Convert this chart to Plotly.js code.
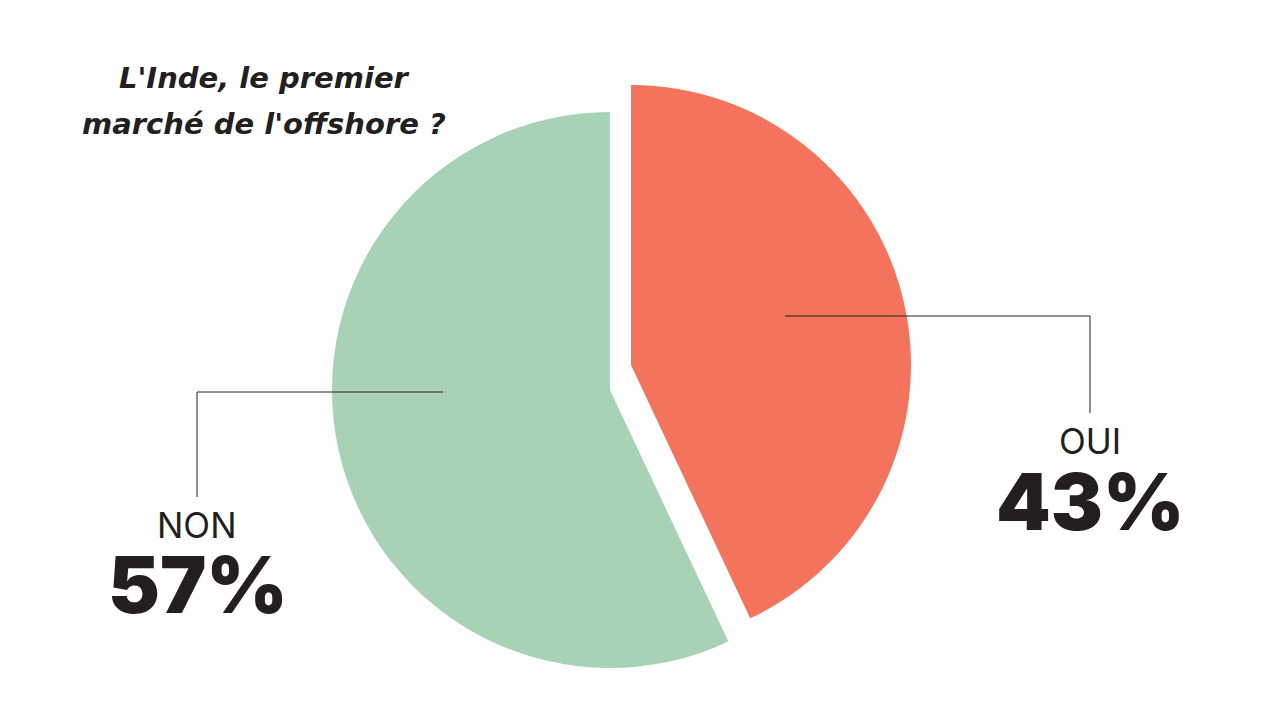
<!DOCTYPE html>
<html>
<head>
<meta charset="utf-8">
<script src="https://cdn.plot.ly/plotly-3.0.1.min.js"></script>
<style>html,body{margin:0;padding:0;background:#fff;}#chart{width:1280px;height:720px;}</style>
</head>
<body>
<div id="chart"></div>
<script>
const categories = ['OUI', 'NON'];
const values = [43, 57];
const colors = ['#f3735d', '#a8d2b6'];
const titleLines = ["L'Inde, le premier", "marché de l'offshore ?"];

const W = 1280, H = 720;
const px = x => x / W;
const py = y => 1 - y / H;
const T = 'rgba(0,0,0,0)';
const dark = '#231f20';

function pieTrace(idx, cx, cy, r) {
  const cols = categories.map((c, i) => i === idx ? colors[i] : T);
  return {
    type: 'pie', labels: categories, values: values, sort: false,
    direction: 'clockwise', rotation: 0, textinfo: 'none', hoverinfo: 'label+percent',
    marker: {colors: cols, line: {width: 0}}, showlegend: false,
    domain: {x: [px(cx - r), px(cx + r)], y: [py(cy + r), py(cy - r)]}
  };
}

const data = [pieTrace(1, 610, 390, 278), pieTrace(0, 631, 365, 280)];

const lineStyle = {color: dark, width: 1};
const shapes = [
  {type: 'line', xref: 'paper', yref: 'paper', x0: px(785), y0: py(316), x1: px(1090), y1: py(316), line: lineStyle},
  {type: 'line', xref: 'paper', yref: 'paper', x0: px(1090), y0: py(316), x1: px(1090), y1: py(413), line: lineStyle},
  {type: 'line', xref: 'paper', yref: 'paper', x0: px(443), y0: py(392), x1: px(197), y1: py(392), line: lineStyle},
  {type: 'line', xref: 'paper', yref: 'paper', x0: px(197), y0: py(392), x1: px(197), y1: py(497), line: lineStyle}
];

function ann(text, x, y, font) {
  return {text: text, xref: 'paper', yref: 'paper', x: px(x), y: py(y), xanchor: 'center', yanchor: 'middle', showarrow: false, font: font};
}
const titleFont = {family: '"DejaVu Sans", "Open Sans", sans-serif', size: 29, color: dark, weight: 700, style: 'italic'};
const labelFont = {family: 'Inter, "Open Sans", sans-serif', size: 35, color: dark, weight: 400};
const pctFont = {family: 'Inter, Lato, sans-serif', size: 78, color: dark, weight: 900};

const annotations = [
  ann(titleLines[0], 264, 78, titleFont),
  ann(titleLines[1], 264, 124, titleFont),
  ann(categories[0], 1090, 441, labelFont),
  ann(values[0] + '%', 1090, 501, pctFont),
  ann(categories[1], 197, 525, labelFont),
  ann(values[1] + '%', 198, 584, pctFont)
];

Plotly.newPlot('chart', data, {
  width: W, height: H, margin: {l: 0, r: 0, t: 0, b: 0},
  paper_bgcolor: '#ffffff', plot_bgcolor: '#ffffff',
  shapes: shapes, annotations: annotations, showlegend: false
}, {displayModeBar: false, staticPlot: true});
</script>
</body>
</html>
